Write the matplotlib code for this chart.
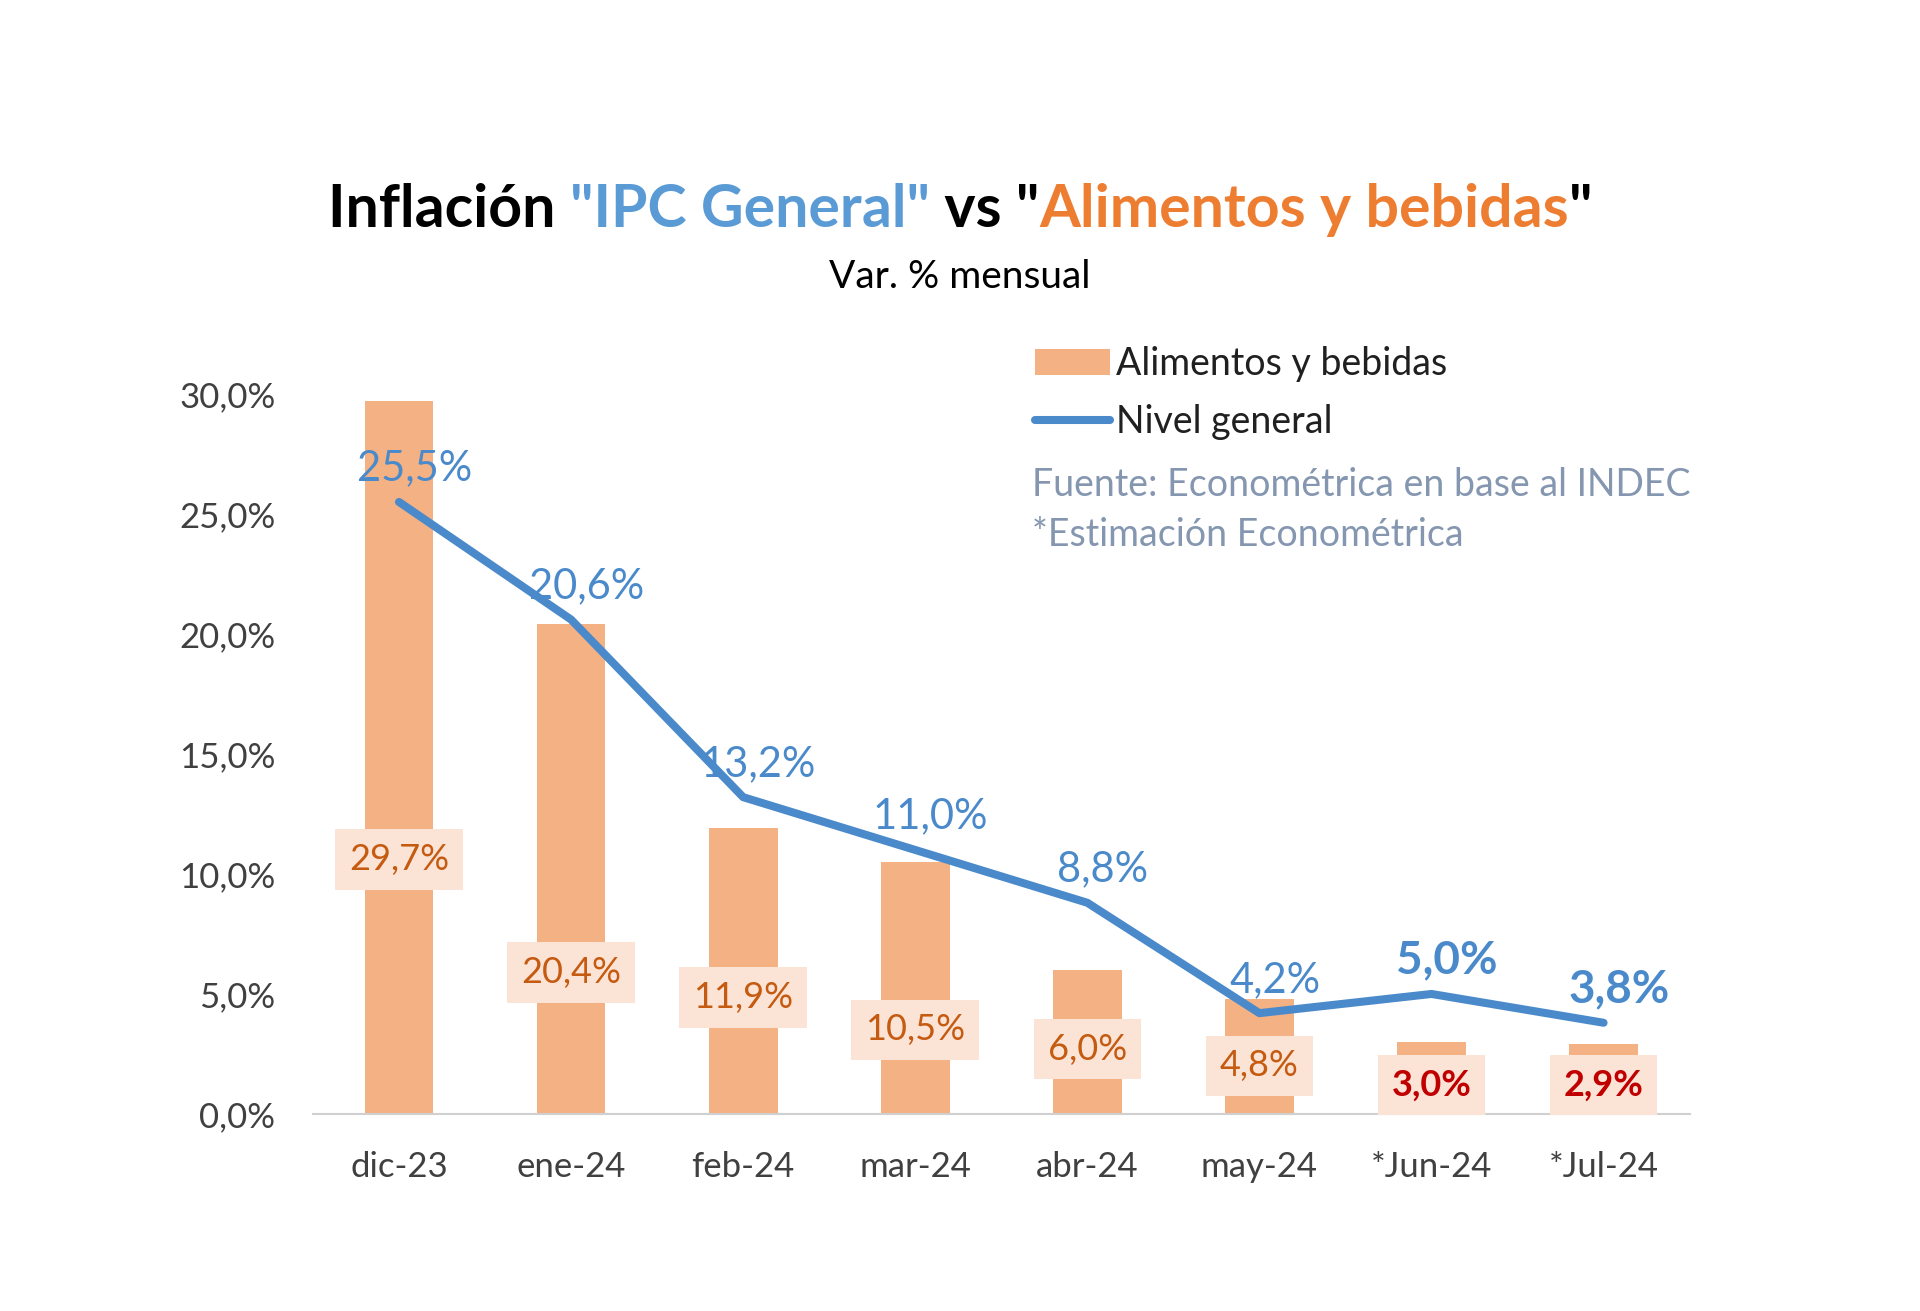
import matplotlib
matplotlib.use("Agg")
import matplotlib.pyplot as plt
from matplotlib.patches import Patch
from matplotlib.lines import Line2D

plt.rcParams['font.family'] = ['Lato', 'DejaVu Sans']

# data
months = ["dic-23", "ene-24", "feb-24", "mar-24", "abr-24", "may-24", "*Jun-24", "*Jul-24"]
alimentos = [29.7, 20.4, 11.9, 10.5, 6.0, 4.8, 3.0, 2.9]
general = [25.5, 20.6, 13.2, 11.0, 8.8, 4.2, 5.0, 3.8]
estimado = [False, False, False, False, False, False, True, True]

# where the bar labels sit (data units), as in the original
bar_lbl_y = [10.6, 5.9, 4.85, 3.5, 2.7, 2.0, 1.2, 1.2]

BAR = "#F4B183"
BLUE = "#5B9BD5"
LBLUE = "#4A8ACB"
ORANGE = "#ED7D31"
DKORANGE = "#C55A11"
DKRED = "#C00000"
GREY = "#404040"
SRC = "#8496B0"

fig = plt.figure(figsize=(19.2, 13.11), dpi=100)
ax = fig.add_axes([0.163, 0.1503, 0.717, 0.5492])

x = list(range(len(months)))
ax.bar(x, alimentos, width=0.4, color=BAR, zorder=1)
ax.plot(x, general, color=LBLUE, lw=5.8, solid_capstyle='round', solid_joinstyle='round', zorder=3)

for i in x:
    bold = estimado[i]
    ax.text(i, bar_lbl_y[i], f"{alimentos[i]:.1f}%".replace(".", ","),
            ha='center', va='center', fontsize=26,
            color=DKRED if bold else DKORANGE,
            fontweight='bold' if bold else 'normal',
            bbox=dict(boxstyle='square,pad=0.38', fc='#FBE4D5', ec='none'), zorder=4)
    ax.annotate(f"{general[i]:.1f}%".replace(".", ","), (i, general[i]),
                xytext=(11, 24), textcoords='offset points',
                ha='center', va='center', fontsize=33 if bold else 30,
                color=LBLUE, fontweight='bold' if bold else 'normal', zorder=5)

ax.set_xlim(-0.5, 7.5)
ax.set_ylim(0, 30)
ax.set_yticks([0, 5, 10, 15, 20, 25, 30])
ax.set_yticklabels([f"{v:.1f}%".replace(".", ",") for v in [0, 5, 10, 15, 20, 25, 30]])
ax.set_xticks(x)
ax.set_xticklabels(months)
ax.tick_params(axis='both', length=0, labelsize=25, labelcolor=GREY)
ax.tick_params(axis='x', pad=27)
ax.tick_params(axis='y', pad=27)
for s in ['top', 'right', 'left']:
    ax.spines[s].set_visible(False)
ax.spines['bottom'].set_color('#D0D0D0')
ax.spines['bottom'].set_linewidth(1.5)

# legend
handles = [Patch(facecolor=BAR, edgecolor='none'),
           Line2D([], [], color=LBLUE, lw=5.8, solid_capstyle='round')]
fig.legend(handles, ["Alimentos y bebidas", "Nivel general"],
           loc='upper left', bbox_to_anchor=(0.5215, 0.762), frameon=False,
           fontsize=27, handlelength=2.0, handleheight=0.7, handletextpad=0.15,
           labelspacing=0.6, labelcolor='#202020')

fig.text(0.5377, 0.630, "Fuente: Econométrica en base al INDEC", fontsize=27,
         color=SRC, va='center')
fig.text(0.5377, 0.592, "*Estimación Econométrica", fontsize=27,
         color=SRC, va='center')

# title in colored pieces
parts = [("Inflación ", "black"), ('"IPC General"', BLUE), (' vs "', "black"),
         ("Alimentos y bebidas", ORANGE), ('"', "black")]
texts = [fig.text(0, 0.84, p, fontsize=42.5, fontweight='bold', color=c, va='center')
         for p, c in parts]
fig.canvas.draw()
r = fig.canvas.get_renderer()
widths = [t.get_window_extent(r).width / fig.bbox.width for t in texts]
xpos = 0.5 - sum(widths) / 2
for t, w in zip(texts, widths):
    t.set_x(xpos)
    xpos += w

fig.text(0.5, 0.789, "Var. % mensual", fontsize=28, color='black', ha='center', va='center')

fig.savefig("out.png", dpi=100, facecolor='white')
